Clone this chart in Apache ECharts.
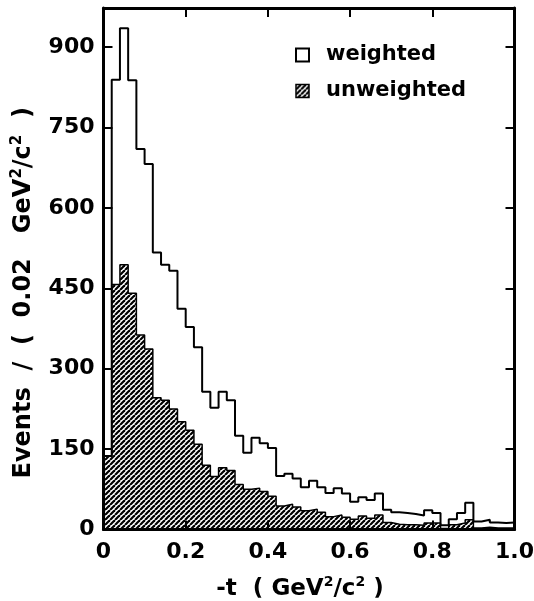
<!DOCTYPE html>
<html><head><meta charset="utf-8">
<script src="https://cdn.jsdelivr.net/npm/echarts@6/dist/echarts.min.js"></script>
<style>html,body{margin:0;padding:0;background:#fff}#c{width:534px;height:601px}</style>
</head><body><div id="c"></div>
<script>
// -t bins of width 0.02 GeV^2/c^2 from 0 to 1.0
const binWidth = 0.02;
const weighted = [137, 839, 935, 838, 710, 682, 517, 494, 483, 412,
                  378, 340, 257, 227, 257, 241, 175, 143, 171, 161,
                  152, 100, 104, 95, 79, 91, 79, 68, 77, 67,
                  52, 60, 55, 67, 37, 32, 31, 29, 26, 36,
                  31, 8, 19, 31, 50, 15, 18, 13, 12, 13];
const unweighted = [137, 457, 494, 441, 363, 337, 246, 241, 225, 201,
                    185, 159, 120, 99, 115, 110, 84, 75, 77, 71,
                    62, 44, 47, 42, 35, 38, 32, 24, 27, 23,
                    19, 25, 21, 27, 13, 10, 9, 9, 8, 12,
                    12, 2, 9, 12, 18, 3, 4, 3, 3, 3];
const xTicks = [0, 0.2, 0.4, 0.6, 0.8, 1.0];
const yTicks = [0, 150, 300, 450, 600, 750, 900];
const seriesNames = ['weighted', 'unweighted'];

const binLow = weighted.map((_, i) => +(i * binWidth).toFixed(2));
function toSteps(vals) {
  const pts = vals.map((v, i) => [binLow[i], v]);
  pts.push([+(binLow[vals.length - 1] + binWidth).toFixed(2), vals[vals.length - 1]]);
  return pts;
}

// hatch pattern "/"
const tile = document.createElement('canvas');
tile.width = 5; tile.height = 5;
const g = tile.getContext('2d');
g.fillStyle = '#fff'; g.fillRect(0, 0, 5, 5);
g.strokeStyle = '#000'; g.lineWidth = 2.2;
for (let k = -1; k <= 1; k++) {
  g.beginPath(); g.moveTo(k * 5, 5); g.lineTo(k * 5 + 5, 0); g.stroke();
}
const hatch = { image: tile, repeat: 'repeat' };

const FF = 'DejaVu Sans';
const axisLineStyle = { color: '#000', width: 3 };
const tickStyle = { show: true, inside: true, length: 9, lineStyle: { color: '#000', width: 2 } };
const labelStyle = { color: '#000', fontSize: 22, fontWeight: 'bold', fontFamily: FF };
const richX = {
  n: { fontSize: 23, fontWeight: 'bold', fontFamily: FF, color: '#000', lineHeight: 28 },
  s: { fontSize: 14, fontWeight: 'bold', fontFamily: FF, color: '#000', verticalAlign: 'top', lineHeight: 14 }
};
const richY = {
  n: { fontSize: 24, fontWeight: 'bold', fontFamily: FF, color: '#000', lineHeight: 28 },
  s: { fontSize: 15, fontWeight: 'bold', fontFamily: FF, color: '#000', verticalAlign: 'top', lineHeight: 15 }
};

const chart = echarts.init(document.getElementById('c'), null, { renderer: 'canvas' });
chart.setOption({
  animation: false,
  backgroundColor: '#fff',
  grid: { left: 103.5, right: 19.5, top: 8, bottom: 71.5, containLabel: false, outerBoundsMode: 'none' },
  legend: {
    orient: 'vertical', left: 295, top: 43, padding: 0,
    itemWidth: 13, itemHeight: 13, itemGap: 12, selectedMode: false,
    textStyle: { color: '#000', fontSize: 21, fontWeight: 'bold', fontFamily: FF, lineHeight: 24, padding: [0, 0, 0, 12] },
    data: [
      { name: seriesNames[0], icon: 'rect', itemStyle: { color: '#fff', borderColor: '#000', borderWidth: 2 } },
      { name: seriesNames[1], icon: 'rect', itemStyle: { color: hatch, borderColor: '#000', borderWidth: 1.5 } }
    ]
  },
  xAxis: [{
    type: 'value', min: xTicks[0], max: xTicks[xTicks.length - 1], interval: xTicks[1] - xTicks[0],
    position: 'bottom', z: 10,
    axisLine: { show: true, onZero: false, lineStyle: axisLineStyle },
    axisTick: tickStyle,
    splitLine: { show: false },
    axisLabel: Object.assign({ margin: 12, formatter: v => v === 0 ? '0' : v.toFixed(1) }, labelStyle),
    name: '{n|-t  ( GeV}{s|2}{n|/c}{s|2}{n| )}',
    nameLocation: 'middle', nameGap: 46,
    nameTextStyle: { padding: [0, 18, 0, 0], rich: richX }
  }, {
    type: 'value', min: xTicks[0], max: xTicks[xTicks.length - 1], interval: xTicks[1] - xTicks[0],
    position: 'top', z: 10,
    axisLine: { show: true, onZero: false, lineStyle: axisLineStyle },
    axisTick: tickStyle, splitLine: { show: false }, axisLabel: { show: false }
  }],
  yAxis: [{
    type: 'value', min: yTicks[0], max: 973, interval: yTicks[1] - yTicks[0],
    position: 'left', z: 10,
    axisLine: { show: true, onZero: false, lineStyle: axisLineStyle },
    axisTick: tickStyle,
    splitLine: { show: false },
    axisLabel: Object.assign({ margin: 9, showMaxLabel: false, formatter: v => yTicks.indexOf(v) >= 0 ? String(v) : '' }, labelStyle),
    name: '{n|Events  /  (  0.02   GeV}{s|2}{n|/c}{s|2}{n|  )}',
    nameLocation: 'middle', nameGap: 66, nameRotate: 90,
    nameTextStyle: { padding: [0, 48, 0, 0], rich: richY }
  }, {
    type: 'value', min: yTicks[0], max: 973, interval: yTicks[1] - yTicks[0],
    position: 'right', z: 10,
    axisLine: { show: true, onZero: false, lineStyle: axisLineStyle },
    axisTick: tickStyle, splitLine: { show: false }, axisLabel: { show: false }
  }],
  series: [{
    type: 'line', name: seriesNames[1], step: 'end', data: toSteps(unweighted),
    symbol: 'none', showSymbol: false, silent: true, z: 2,
    itemStyle: { color: '#000' },
    lineStyle: { color: '#000', width: 1.5 },
    areaStyle: { color: hatch, opacity: 1 }
  }, {
    type: 'line', name: seriesNames[0], step: 'end', data: toSteps(weighted),
    symbol: 'none', showSymbol: false, silent: true, z: 3,
    itemStyle: { color: '#000' },
    lineStyle: { color: '#000', width: 2 }
  }]
});
</script></body></html>
